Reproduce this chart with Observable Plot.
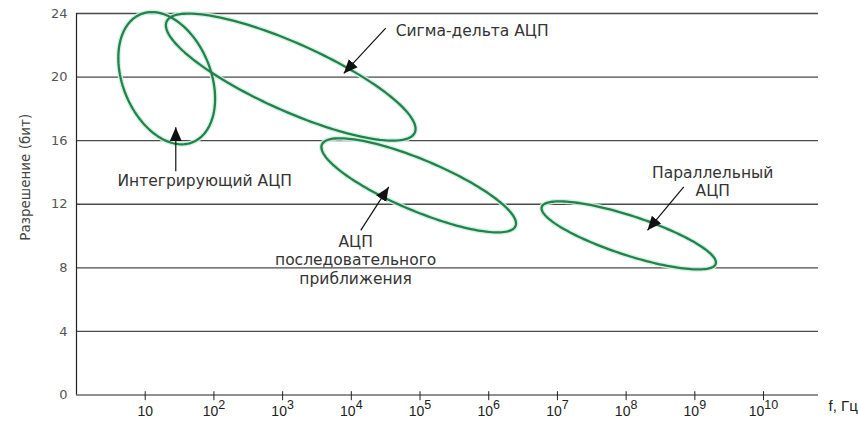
<!DOCTYPE html>
<html><head><meta charset="utf-8">
<script src="https://cdn.jsdelivr.net/npm/d3@7"></script>
<script src="https://cdn.jsdelivr.net/npm/@observablehq/plot@0.6"></script>
<style>body{margin:0;background:#fff}</style>
</head><body><div id="chart"></div>
<script>
// ---- data (x values are log10 of frequency, Hz; y values are bits) ----
const yTicks = [0, 4, 8, 12, 16, 20, 24];
const xTickExps = [1, 2, 3, 4, 5, 6, 7, 8, 9, 10];

const ellipseNames = ["Интегрирующий", "Сигма-дельта", "Последовательного приближения", "Параллельный"];
const ellipseCenterExp  = [1.313, 3.118, 4.981, 8.038];
const ellipseCenterBits = [19.93, 20.00, 13.19, 10.04];
const ellipseMajorExp   = [0.378, 1.806, 1.409, 1.266];
const ellipseMajorBits  = [-4.026, -3.495, -2.563, -1.790];
const ellipseMinorExp   = [-0.594, -0.200, -0.144, -0.089];
const ellipseMinorBits  = [-1.042, -1.937, -1.480, -1.173];

const centeredLabelTexts = ["Интегрирующий АЦП", "АЦП\nпоследовательного\nприближения", "Параллельный\nАЦП"];
const centeredLabelExp   = [1.866, 4.063, 9.260];
const centeredLabelBits  = [13.51, 8.53, 13.44];
const leftLabelTexts = ["Сигма-дельта АЦП"];
const leftLabelExp   = [4.646];
const leftLabelBits  = [22.95];

const arrowTailExp  = [1.445, 4.501, 4.137, 8.839];
const arrowTailBits = [14.07, 23.08, 10.36, 13.09];
const arrowTipExp   = [1.445, 3.890, 4.545, 8.311];
const arrowTipBits  = [16.85, 20.23, 13.09, 10.36];

const yTitle = "Разрешение (бит)";
const yTitleBits = 13.7;
const xTitle = "f, Гц";

// ---- build tables ----
const outline = [];
ellipseNames.forEach((name, i) => {
  const N = 160;
  for (let k = 0; k <= N; k++) {
    const t = 2 * Math.PI * k / N, c = Math.cos(t), s = Math.sin(t);
    outline.push({
      name,
      f: 10 ** (ellipseCenterExp[i] + ellipseMajorExp[i] * c + ellipseMinorExp[i] * s),
      bits: ellipseCenterBits[i] + ellipseMajorBits[i] * c + ellipseMinorBits[i] * s
    });
  }
});
const centeredLabels = centeredLabelTexts.map((t, i) => ({t, f: 10 ** centeredLabelExp[i], bits: centeredLabelBits[i]}));
const leftLabels = leftLabelTexts.map((t, i) => ({t, f: 10 ** leftLabelExp[i], bits: leftLabelBits[i]}));
const arrows = arrowTailExp.map((e, i) => ({
  x1: 10 ** e, y1: arrowTailBits[i], x2: 10 ** arrowTipExp[i], y2: arrowTipBits[i]
}));
const xTicks = xTickExps.map(e => 10 ** e);

const gothic = "DejaVu Sans, Liberation Sans, sans-serif";
const labelStyle = {fontFamily: gothic, fontSize: 15.5, fill: "#333", letterSpacing: "1.5px", lineHeight: 1.18};

const plot = Plot.plot({
  width: 858, height: 425,
  marginLeft: 76, marginRight: 40, marginTop: 13, marginBottom: 30.5,
  x: {type: "log", domain: [1, 10 ** 10.8]},
  y: {domain: [0, 24]},
  style: {fontFamily: "Liberation Sans, Arial, sans-serif", fontSize: "14px", background: "#fff", color: "#222"},
  marks: [
    Plot.ruleY(yTicks.filter(d => d > 0), {stroke: "#4a4a4a", strokeWidth: 1.3}),
    Plot.ruleY([0], {stroke: "#222", strokeWidth: 1.2}),
    Plot.ruleX([1], {stroke: "#222", strokeWidth: 1.2}),
    Plot.axisY({ticks: yTicks, tickSize: 0, tickPadding: 9, label: null, fontFamily: gothic, fontSize: 13, color: "#555"}),
    Plot.axisX({ticks: xTicks, tickSize: 9, dy: -3.3, tickPadding: 5, label: null, color: "#222",
      tickFormat: d => { const e = Math.round(Math.log10(d)); return e === 1 ? "10" : "10^" + e; }}),
    Plot.line(outline, {x: "f", y: "bits", z: "name", stroke: "#d3f1e1", strokeWidth: 5, strokeOpacity: 0.9}),
    Plot.line(outline, {x: "f", y: "bits", z: "name", stroke: "#23814c", strokeWidth: 2.3}),
    Plot.link(arrows, {x1: "x1", y1: "y1", x2: "x2", y2: "y2", stroke: "#111", strokeWidth: 1.2}),
    Plot.text(centeredLabels, {x: "f", y: "bits", text: "t", textAnchor: "middle", lineAnchor: "middle", ...labelStyle}),
    Plot.text(leftLabels, {x: "f", y: "bits", text: "t", textAnchor: "start", lineAnchor: "middle", ...labelStyle}),
    Plot.text([yTitle], {x: () => 1, y: () => yTitleBits, text: d => d, dx: -51, rotate: -90,
      fontFamily: gothic, fontSize: 13.5, fill: "#444"}),
    Plot.text([xTitle], {frameAnchor: "bottom-right", text: d => d, dx: 10, dy: 16, textAnchor: "start", fontSize: 15, fill: "#222"})
  ]
});

// superscript exponents on x tick labels
const ns = "http://www.w3.org/2000/svg";
plot.querySelectorAll("text").forEach(el => {
  const s = el.textContent;
  if (/^10\^\d+$/.test(s)) {
    const e = s.split("^")[1];
    el.textContent = "10";
    const sup = document.createElementNS(ns, "tspan");
    sup.setAttribute("dy", "-0.55em");
    sup.setAttribute("font-size", "12.5");
    sup.textContent = e;
    el.appendChild(sup);
  }
});
// filled arrowheads
const defs = document.createElementNS(ns, "defs");
const marker = document.createElementNS(ns, "marker");
marker.setAttribute("id", "ah");
marker.setAttribute("viewBox", "-14 -7 14 14");
marker.setAttribute("markerWidth", "14");
marker.setAttribute("markerHeight", "14");
marker.setAttribute("markerUnits", "userSpaceOnUse");
marker.setAttribute("refX", "0");
marker.setAttribute("refY", "0");
marker.setAttribute("orient", "auto");
const mp = document.createElementNS(ns, "path");
mp.setAttribute("d", "M-14,-6L0,0L-14,6Z");
mp.setAttribute("fill", "#111");
mp.setAttribute("stroke", "none");
marker.appendChild(mp);
defs.appendChild(marker);
plot.insertBefore(defs, plot.firstChild);
plot.querySelectorAll('g[aria-label="link"] path, g[aria-label="link"] line').forEach(p => p.setAttribute("marker-end", "url(#ah)"));

document.getElementById("chart").appendChild(plot);
</script>
</body></html>
